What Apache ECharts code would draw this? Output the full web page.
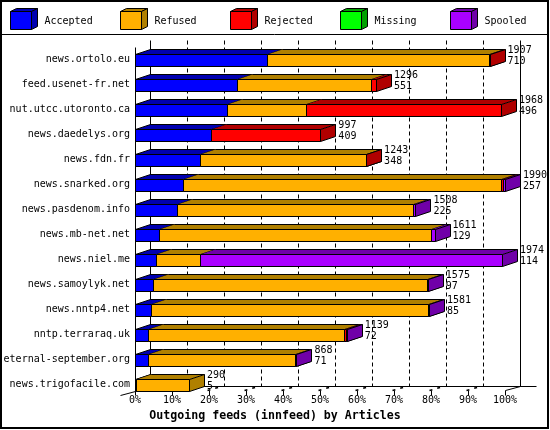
<!DOCTYPE html>
<html>
<head>
<meta charset="utf-8">
<title>Outgoing feeds (innfeed) by Articles</title>
<script src="https://cdn.jsdelivr.net/npm/echarts@6/dist/echarts.min.js"></script>
<style>
  html, body { margin: 0; padding: 0; background: #fff; }
  #chart { width: 550px; height: 430px; }
</style>
</head>
<body>
<div id="chart"></div>
<script>
const hosts = [
  'news.ortolo.eu', 'feed.usenet-fr.net', 'nut.utcc.utoronto.ca', 'news.daedelys.org',
  'news.fdn.fr', 'news.snarked.org', 'news.pasdenom.info', 'news.mb-net.net',
  'news.niel.me', 'news.samoylyk.net', 'news.nntp4.net', 'nntp.terraraq.uk',
  'eternal-september.org', 'news.trigofacile.com'
]
const totals   = [1907, 1296, 1968, 997, 1243, 1990, 1508, 1611, 1974, 1575, 1581, 1139, 868, 290]
const accepted = [710, 551, 496, 409, 348, 257, 225, 129, 114, 97, 85, 72, 71, 5]
const refused  = [1194, 720, 422, 0, 892, 1713, 1272, 1463, 237, 1472, 1489, 1054, 789, 285]
const rejected = [3, 25, 1050, 588, 3, 8, 0, 0, 0, 0, 0, 8, 0, 0]
const missing  = [0, 0, 0, 0, 0, 0, 0, 0, 0, 0, 0, 0, 0, 0]
const spooled  = [0, 0, 0, 0, 0, 12, 11, 19, 1623, 6, 7, 5, 8, 0]
const ticks = [0, 10, 20, 30, 40, 50, 60, 70, 80, 90, 100]

const names = ['Accepted', 'Refused', 'Rejected', 'Missing', 'Spooled']
const fronts = ['#0000ff', '#ffb000', '#ff0000', '#00ff00', '#aa00ff']
const darks = ['#0000b0', '#b08000', '#b00000', '#00a000', '#7000a8']

const FONT = 'DejaVu Sans Mono'
const DX = 15, DY = 5, BAR_H = 12

const stacks = [accepted, refused, rejected, missing, spooled]
const maxTotal = Math.max(...totals)
const pct = v => v / maxTotal * 100
const px = v => Math.round(v) + 0.5

// start / end of every segment, in percent of the biggest feed
const segments = stacks.map((vals, k) => hosts.map((h, i) => {
  let start = 0
  for (let j = 0; j < k; j++) start += stacks[j][i]
  return [i, pct(start), pct(start + vals[i])]
}))

const renderBox = (color, dark) => (params, api) => {
  if (api.value(2) <= api.value(1)) return null
  const i = api.value(0)
  const a = api.coord([api.value(1), i])
  const b = api.coord([api.value(2), i])
  const x0 = px(a[0]), x1 = px(b[0])
  const top = px(a[1] - BAR_H / 2), bot = top + BAR_H
  const children = [
    {
      type: 'polygon',
      shape: { points: [[x0, top], [x1, top], [x1 + DX, top - DY], [x0 + DX, top - DY]] },
      style: { fill: dark }
    },
    {
      type: 'polyline',
      shape: { points: [[x0 + DX, top - DY], [x1 + DX, top - DY]] },
      style: { stroke: '#000', fill: null, lineWidth: 1 }
    },
    {
      type: 'rect',
      shape: { x: x0, y: top, width: x1 - x0, height: BAR_H },
      style: { fill: color, stroke: '#000', lineWidth: 1 }
    },
    {
      type: 'polygon',
      shape: { points: [[x1, top], [x1 + DX, top - DY], [x1 + DX, bot - DY], [x1, bot]] },
      style: { fill: dark, stroke: '#000', lineWidth: 1 }
    }
  ]
  if (api.value(1) === 0) {
    children.push({
      type: 'polyline',
      shape: { points: [[x0, top], [x0 + DX, top - DY]] },
      style: { stroke: '#000', fill: null, lineWidth: 1 }
    })
  }
  return { type: 'group', children }
}

const chart = echarts.init(document.getElementById('chart'))

const option = {
  animation: false,
  backgroundColor: '#fff',
  title: {
    text: 'Outgoing feeds (innfeed) by Articles',
    left: 'center',
    top: 410,
    padding: 0,
    textStyle: { fontFamily: FONT, fontSize: 11.6, fontWeight: 'bold', color: '#000' }
  },
  grid: {
    left: 135,
    right: 45,
    top: 59.5,
    bottom: 45.5,
    outerBoundsMode: 'none'
  },
  xAxis: {
    type: 'value',
    min: 0,
    max: 100,
    interval: 10,
    axisLine: { show: false },
    axisTick: { show: false },
    splitLine: { show: false },
    axisLabel: { formatter: '{value}%', color: '#000', fontFamily: FONT, fontSize: 10, margin: 11 }
  },
  yAxis: {
    type: 'category',
    data: hosts,
    inverse: true,
    boundaryGap: false,
    axisLine: { show: false },
    axisTick: { show: false },
    splitLine: { show: false },
    axisLabel: { interval: 0, color: '#000', fontFamily: FONT, fontSize: 10, margin: 5 }
  },
  series: [
    ...names.map((name, k) => ({
      name,
      type: 'custom',
      clip: false,
      encode: { x: [1, 2], y: 0 },
      data: segments[k],
      renderItem: renderBox(fronts[k], darks[k])
    })),
    {
      name: 'labels',
      type: 'custom',
      clip: false,
      z: 10,
      encode: { x: 1, y: 0 },
      data: hosts.map((h, i) => [i, pct(totals[i]), totals[i], accepted[i]]),
      renderItem: (params, api) => {
        const p = api.coord([api.value(1), api.value(0)])
        return {
          type: 'text',
          x: p[0] + DX + 3,
          y: p[1] - 4,
          style: {
            text: api.value(2) + '\n' + api.value(3),
            fill: '#000',
            fontFamily: FONT,
            fontSize: 10,
            lineHeight: 11,
            align: 'left',
            verticalAlign: 'middle'
          }
        }
      }
    }
  ]
}

chart.setOption(option)

// frame, 3d floor and back grid, placed from the axis scales
const origin = chart.convertToPixel({ gridIndex: 0 }, [0, 0])
const far = chart.convertToPixel({ gridIndex: 0 }, [100, hosts.length - 1])
const frontTop = px(origin[1] - 12.5)
const frontBottom = px(far[1] + BAR_H / 2)
const backTop = px(origin[1] - 19.5)
const backBottom = frontBottom - DY
const line = (x1, y1, x2, y2, extra) => ({
  type: 'line',
  shape: { x1, y1, x2, y2 },
  style: Object.assign({ stroke: '#000', lineWidth: 1 }, extra || {})
})

const elements = [
  { type: 'rect', shape: { x: 1, y: 1, width: 547, height: 427 }, style: { fill: null, stroke: '#000', lineWidth: 2 } },
  line(0, 34.5, 549, 34.5)
]

names.forEach((name, k) => {
  const x = 10.5 + 110 * k
  elements.push(
    { type: 'polygon', shape: { points: [[x, 11.5], [x + 21, 11.5], [x + 27, 8.5], [x + 6, 8.5]] }, style: { fill: darks[k], stroke: '#000', lineWidth: 1 } },
    { type: 'rect', shape: { x, y: 11.5, width: 21, height: 18 }, style: { fill: fronts[k], stroke: '#000', lineWidth: 1 } },
    { type: 'polygon', shape: { points: [[x + 21, 11.5], [x + 27, 8.5], [x + 27, 26.5], [x + 21, 29.5]] }, style: { fill: darks[k], stroke: '#000', lineWidth: 1 } },
    { type: 'text', x: x + 34, y: 21, style: { text: name, fill: '#000', fontFamily: FONT, fontSize: 10, verticalAlign: 'middle' } }
  )
})

ticks.forEach(t => {
  const xf = px(chart.convertToPixel({ gridIndex: 0 }, [t, 0])[0])
  const xb = xf + DX
  if (t > 0 && t < 100) {
    elements.push(line(xb, backTop, xb, backBottom, { lineDash: [4, 3] }))
    elements.push(line(xf - 2, frontBottom - 1, xb - 3, backBottom, { lineDash: [3, 5], lineWidth: 1.5 }))
  }
  elements.push(line(xf, frontBottom - 1, xf, frontBottom + 4))
})

const xl = px(origin[0]), xr = px(far[0])
elements.push(
  line(xl, frontTop, xl, frontBottom),
  line(xl + DX, backTop, xl + DX, backBottom),
  line(xr + DX, backTop, xr + DX, backBottom),
  line(xl + DX, backBottom, xr + DX + 16, backBottom),
  line(xl - 15, frontBottom + 4, xl, frontBottom),
  line(xr, frontBottom - 1, xr + DX, backBottom)
)

chart.setOption({ graphic: { elements } })
</script>
</body>
</html>
